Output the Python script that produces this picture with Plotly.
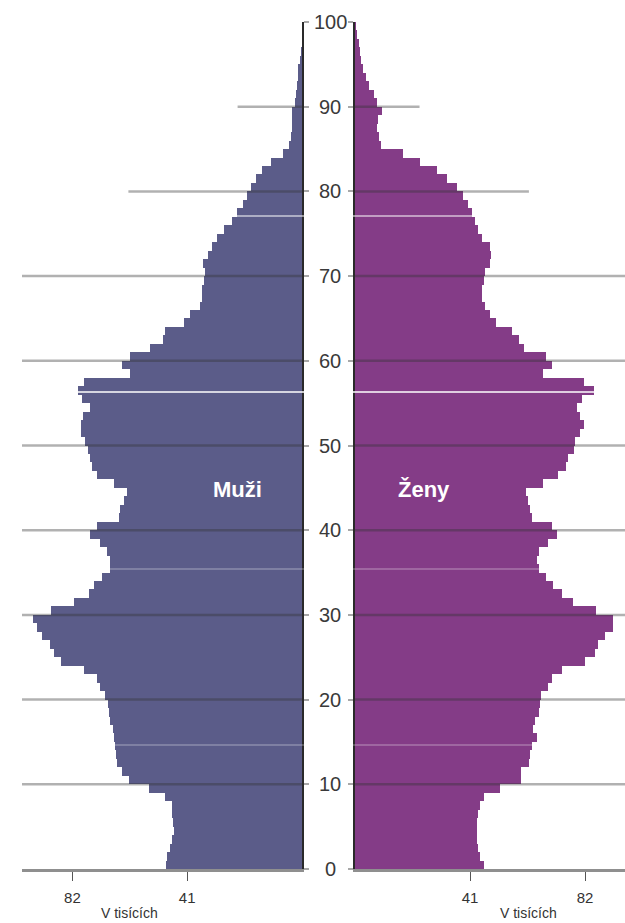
import plotly.graph_objects as go

# ---------------- data (thousands, age 0..100) ----------------
ages = list(range(0, 101))

men = [48.5, 48.2, 47.1, 46.5, 45.6, 46.1, 46.5, 46.5, 48.8, 54.8,
       61.9, 64.3, 66.1, 66.3, 66.7, 67.0, 67.5, 68.4, 69.0, 69.4,
       70.2, 72.0, 73.2, 78.0, 85.9, 88.7, 90.1, 92.8, 94.8, 96.1,
       89.8, 81.3, 76.2, 74.4, 71.4, 68.4, 68.4, 69.6, 72.0, 75.8,
       73.2, 65.5, 64.9, 63.7, 62.5, 67.3, 73.2, 75.0, 75.8, 76.5,
       77.4, 78.9, 79.1, 78.2, 75.6, 78.5, 80.1, 78.0, 61.6, 64.3,
       61.3, 54.2, 49.7, 48.8, 42.0, 39.9, 36.6, 35.8, 35.8, 34.9,
       34.6, 35.2, 33.4, 32.2, 30.2, 28.0, 25.1, 23.1, 21.1, 19.7,
       18.3, 16.4, 14.4, 11.2, 6.9, 4.5, 3.8, 3.4, 3.4, 3.4,
       2.5, 2.3, 1.9, 1.3, 1.3, 0.7, 0.3, 0.0, 0.0, 0.0, 0.0]

women = [46.0, 44.6, 44.0, 43.4, 43.4, 43.4, 44.0, 44.4, 46.0, 51.7,
         59.1, 59.1, 62.2, 62.4, 63.0, 65.0, 63.6, 64.2, 65.7, 66.0,
         66.2, 68.9, 70.1, 73.7, 82.0, 85.6, 86.8, 89.1, 91.9, 92.1,
         85.9, 77.8, 73.7, 70.7, 68.1, 65.7, 65.0, 65.7, 68.9, 72.1,
         70.1, 63.0, 62.4, 61.8, 60.9, 67.1, 72.4, 75.2, 76.0, 78.0,
         78.4, 80.2, 81.6, 80.2, 79.0, 81.1, 85.2, 81.6, 67.1, 70.1,
         68.1, 60.2, 58.3, 55.9, 50.3, 48.1, 46.5, 45.2, 45.2, 46.0,
         46.3, 48.1, 48.4, 48.1, 45.2, 44.0, 42.8, 41.6, 40.4, 38.4,
         36.3, 32.9, 29.1, 23.2, 17.2, 9.1, 8.6, 7.7, 8.3, 9.5,
         8.0, 6.8, 5.1, 3.9, 3.0, 2.1, 1.75, 1.3, 0.8, 0.3, 0.0]

age_ticks = [0, 10, 20, 30, 40, 50, 60, 70, 80, 90, 100]
value_ticks = [41, 82]
value_tick_labels = ["41", "82"]
grid_levels = [10, 20, 30, 40, 50, 60, 70, 80, 90]
grid_extent = [100, 100, 100, 100, 100, 100, 100, 62, 23]

label_men = "Muži"
label_women = "Ženy"
axis_title = "V tisících"

# ---------------- styling ----------------
W, H = 625, 923
FONT = "Liberation Sans, Arial, sans-serif"
MEN_COLOR = "#5b5c89"
WOMEN_COLOR = "#843c87"
GRID_COLOR = "rgba(50,50,50,0.38)"


def px_x(x):
    return x / W


def px_y(y):
    return 1 - y / H


y_dom = [px_y(869), px_y(22)]
left_dom = [px_x(22), px_x(302)]
right_dom = [px_x(355), 1.0]
right_max = (625 - 355) / 2.805

fig = go.Figure()
centers = [a + 0.5 for a in ages]
fig.add_trace(go.Bar(x=men, y=centers, orientation="h", width=1,
                     marker=dict(color=MEN_COLOR, line=dict(width=0)),
                     xaxis="x", yaxis="y", showlegend=False, hoverinfo="skip"))
fig.add_trace(go.Bar(x=women, y=centers, orientation="h", width=1,
                     marker=dict(color=WOMEN_COLOR, line=dict(width=0)),
                     xaxis="x2", yaxis="y2", showlegend=False, hoverinfo="skip"))

xcommon = dict(showgrid=False, zeroline=False, showline=True, linecolor="#8f8f8f",
               linewidth=3, ticks="outside", ticklen=9, tickwidth=1, tickcolor="#555555",
               tickvals=value_ticks, ticktext=value_tick_labels,
               tickfont=dict(family=FONT, size=15, color="#333333"),
               ticklabelstandoff=4, fixedrange=True)
ycommon = dict(range=[0, 100], domain=y_dom, showgrid=False, zeroline=False,
               showline=True, linecolor="#2a2a2a", linewidth=1.5,
               ticks="outside", ticklen=5, tickwidth=2, tickcolor="#a8a8a8",
               tickvals=age_ticks, showticklabels=False, fixedrange=True)

fig.update_layout(
    width=W, height=H, margin=dict(l=0, r=0, t=0, b=0),
    paper_bgcolor="white", plot_bgcolor="white",
    bargap=0, barmode="overlay",
    xaxis=dict(domain=left_dom, range=[100, 0], anchor="y", **xcommon),
    xaxis2=dict(domain=right_dom, range=[0, right_max], anchor="y2", **xcommon),
    yaxis=dict(anchor="x", side="right", **ycommon),
    yaxis2=dict(anchor="x2", side="left", **ycommon),
)

shapes = []
for lvl, ext in zip(grid_levels, grid_extent):
    shapes.append(dict(type="line", xref="x", yref="y", x0=0, x1=ext, y0=lvl, y1=lvl,
                       line=dict(color=GRID_COLOR, width=2.5), layer="above"))
    shapes.append(dict(type="line", xref="x2", yref="y2", x0=0, x1=ext, y0=lvl, y1=lvl,
                       line=dict(color=GRID_COLOR, width=2.5), layer="above"))
# thin light scan lines visible across the bars in the original picture
for yy, col, wd in [(216, "white", 1.2), (392, "white", 1.6),
                    (569, "rgba(255,255,255,0.45)", 1), (745, "rgba(255,255,255,0.45)", 1)]:
    shapes.append(dict(type="line", xref="paper", yref="paper", x0=0, x1=1,
                       y0=px_y(yy), y1=px_y(yy), line=dict(color=col, width=wd), layer="above"))
fig.update_layout(shapes=shapes)

ann = []
for t in age_ticks:
    ann.append(dict(x=px_x(330), y=t, xref="paper", yref="y", text=str(t), showarrow=False,
                    xanchor="center", yanchor="middle",
                    font=dict(family=FONT, size=20, color="#3a3a3a")))
ann.append(dict(x=px_x(237), y=px_y(489), xref="paper", yref="paper", text="<b>%s</b>" % label_men,
                showarrow=False, xanchor="center", yanchor="middle",
                font=dict(family=FONT, size=22, color="white")))
ann.append(dict(x=px_x(424), y=px_y(489), xref="paper", yref="paper", text="<b>%s</b>" % label_women,
                showarrow=False, xanchor="center", yanchor="middle",
                font=dict(family=FONT, size=22, color="white")))
for cx in (129.5, 528):
    ann.append(dict(x=px_x(cx), y=px_y(913), xref="paper", yref="paper", text=axis_title,
                    showarrow=False, xanchor="center", yanchor="middle",
                    font=dict(family=FONT, size=14, color="#333333")))
fig.update_layout(annotations=ann)

fig.write_html("out.html", config={"displayModeBar": False},
               post_script="document.body.style.margin='0';document.body.style.padding='0';")
